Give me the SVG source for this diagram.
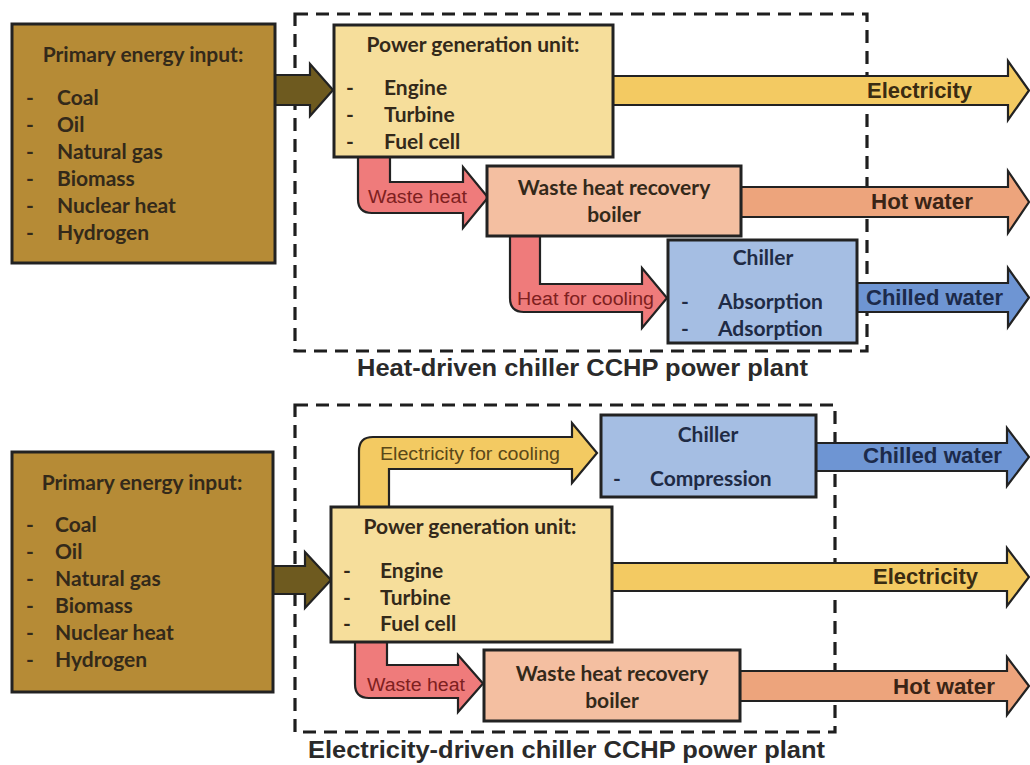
<svg xmlns="http://www.w3.org/2000/svg" width="1030" height="765" viewBox="0 0 1030 765">
<style>
.frame{fill:none;stroke:#1e1e1e;stroke-width:3.2;stroke-dasharray:13 8}
.box{stroke:#222;stroke-width:3}
.arr{stroke:#222;stroke-width:2.2;stroke-linejoin:miter}
.prim{fill:#b68b36}
.pin{fill:#6e5a1f}
.pgu{fill:#f6de9b}
.elec{fill:#f3ca62}
.waste{fill:#ef7b7b}
.whrb{fill:#f4bfa1}
.hot{fill:#eda47c}
.chil{fill:#a5bee3}
.cw{fill:#6e95d3}
.bt{font-family:Lato,"Open Sans",sans-serif;font-weight:bold;font-size:21px;fill:#33291a}
.bc{text-anchor:middle}
.ct{fill:#1f2b45}
.al{font-family:"Liberation Sans",Arial,sans-serif;font-size:18px}
.ol{font-family:"Liberation Sans",Arial,sans-serif;font-weight:bold;font-size:22px}
.title{font-family:"Liberation Sans",Arial,sans-serif;font-weight:bold;font-size:23px;fill:#2a2a2a}
</style>

<!-- dashed frames -->
<g id="frames">
<rect class="frame" x="295" y="14" width="572" height="337"/>
<rect class="frame" x="295" y="405" width="540" height="327"/>
</g>

<!-- connectors -->
<g id="connectors">
<!-- top -->
<polygon class="arr pin" points="275,75 310,75 310,64 333,90 310,116 310,105 275,105"/>
<polygon class="arr elec" points="613,76 1008,76 1008,61 1029,90.5 1008,120 1008,105 613,105"/>
<path class="arr waste" d="M358,157 V199 Q358,213 372,213 H463 V228 L488,197.5 L463,167 V182 H390 V157 Z"/>
<polygon class="arr hot" points="741,187 1008,187 1008,171 1029,202 1008,233 1008,217 741,217"/>
<path class="arr waste" d="M510,236 V298 Q510,312 524,312 H642 V328 L667,298 L642,268 V284 H540 V236 Z"/>
<polygon class="arr cw" points="857,283 1008,283 1008,268 1029,297.5 1008,327 1008,312 857,312"/>
<!-- bottom -->
<polygon class="arr pin" points="273,566 305,566 305,552 331,580 305,608 305,594 273,594"/>
<path class="arr elec" d="M359,507 V451 Q359,437 373,437 H572 V423 L597,453 L572,483 V469 H389 V507 Z"/>
<polygon class="arr cw" points="816,443 1007,443 1007,428 1029,457 1007,486 1007,471 816,471"/>
<polygon class="arr elec" points="612,563 1007,563 1007,548 1029,577 1007,606 1007,591 612,591"/>
<path class="arr waste" d="M355,642 V684 Q355,698 369,698 H458 V712 L483,683.5 L458,655 V665 H387 V642 Z"/>
<polygon class="arr hot" points="740,671 1007,671 1007,657 1029,686 1007,715 1007,701 740,701"/>
</g>

<!-- connector labels -->
<g id="connector-labels">
<text class="ol" x="867" y="98" fill="#3a2c12" textLength="105" lengthAdjust="spacingAndGlyphs">Electricity</text>
<text class="al" x="368" y="203" fill="#7e2020" textLength="99" lengthAdjust="spacingAndGlyphs">Waste heat</text>
<text class="ol" x="871" y="209" fill="#3a2416" textLength="102" lengthAdjust="spacingAndGlyphs">Hot water</text>
<text class="al" x="517" y="305" fill="#7e2020" textLength="137" lengthAdjust="spacingAndGlyphs">Heat for cooling</text>
<text class="ol" x="866" y="305" fill="#1c2a4a" textLength="137" lengthAdjust="spacingAndGlyphs">Chilled water</text>
<text class="al" x="380" y="460" fill="#5a4818" textLength="180" lengthAdjust="spacingAndGlyphs">Electricity for cooling</text>
<text class="ol" x="863" y="463" fill="#1c2a4a" textLength="139" lengthAdjust="spacingAndGlyphs">Chilled water</text>
<text class="ol" x="873" y="584" fill="#3a2c12" textLength="105" lengthAdjust="spacingAndGlyphs">Electricity</text>
<text class="al" x="367" y="691" fill="#7e2020" textLength="98" lengthAdjust="spacingAndGlyphs">Waste heat</text>
<text class="ol" x="893" y="694" fill="#3a2416" textLength="102" lengthAdjust="spacingAndGlyphs">Hot water</text>
</g>

<!-- TOP: Heat-driven chiller -->
<g id="primary-top">
<rect class="box prim" x="12" y="24" width="263" height="239"/>
<text class="bt bc" x="143" y="62">Primary energy input:</text>
<text class="bt" x="26" y="105">-</text><text class="bt" x="57" y="105">Coal</text>
<text class="bt" x="26" y="132">-</text><text class="bt" x="57" y="132">Oil</text>
<text class="bt" x="26" y="159">-</text><text class="bt" x="57" y="159">Natural gas</text>
<text class="bt" x="26" y="186">-</text><text class="bt" x="57" y="186">Biomass</text>
<text class="bt" x="26" y="213">-</text><text class="bt" x="57" y="213">Nuclear heat</text>
<text class="bt" x="26" y="240">-</text><text class="bt" x="57" y="240">Hydrogen</text>
</g>

<g id="pgu-top">
<rect class="box pgu" x="334" y="25" width="279" height="132"/>
<text class="bt bc" x="473" y="52">Power generation unit:</text>
<text class="bt" x="346" y="95">-</text><text class="bt" x="384" y="95">Engine</text>
<text class="bt" x="346" y="122">-</text><text class="bt" x="384" y="122">Turbine</text>
<text class="bt" x="346" y="149">-</text><text class="bt" x="384" y="149">Fuel cell</text>
</g>

<g id="whrb-top">
<rect class="box whrb" x="487" y="166" width="254" height="70"/>
<text class="bt bc" x="614" y="195">Waste heat recovery</text>
<text class="bt bc" x="614" y="222">boiler</text>
</g>

<g id="chiller-top">
<rect class="box chil" x="668" y="240" width="189" height="103"/>
<text class="bt bc ct" x="763" y="265">Chiller</text>
<text class="bt ct" x="681" y="309">-</text><text class="bt ct" x="718" y="309">Absorption</text>
<text class="bt ct" x="681" y="336">-</text><text class="bt ct" x="718" y="336">Adsorption</text>
</g>

<text id="title-top" class="title" x="357" y="376" textLength="451" lengthAdjust="spacingAndGlyphs">Heat-driven chiller CCHP power plant</text>

<!-- BOTTOM: Electricity-driven chiller -->
<g id="primary-bottom">
<rect class="box prim" x="12" y="452" width="261" height="240"/>
<text class="bt bc" x="142" y="490">Primary energy input:</text>
<text class="bt" x="26" y="532">-</text><text class="bt" x="55" y="532">Coal</text>
<text class="bt" x="26" y="559">-</text><text class="bt" x="55" y="559">Oil</text>
<text class="bt" x="26" y="586">-</text><text class="bt" x="55" y="586">Natural gas</text>
<text class="bt" x="26" y="613">-</text><text class="bt" x="55" y="613">Biomass</text>
<text class="bt" x="26" y="640">-</text><text class="bt" x="55" y="640">Nuclear heat</text>
<text class="bt" x="26" y="667">-</text><text class="bt" x="55" y="667">Hydrogen</text>
</g>

<g id="chiller-bottom">
<rect class="box chil" x="601" y="415" width="215" height="82"/>
<text class="bt bc ct" x="708" y="442">Chiller</text>
<text class="bt ct" x="613" y="486">-</text><text class="bt ct" x="650" y="486">Compression</text>
</g>

<g id="pgu-bottom">
<rect class="box pgu" x="331" y="507" width="281" height="135"/>
<text class="bt bc" x="470" y="534">Power generation unit:</text>
<text class="bt" x="343" y="578">-</text><text class="bt" x="380" y="578">Engine</text>
<text class="bt" x="343" y="605">-</text><text class="bt" x="380" y="605">Turbine</text>
<text class="bt" x="343" y="631">-</text><text class="bt" x="380" y="631">Fuel cell</text>
</g>

<g id="whrb-bottom">
<rect class="box whrb" x="484" y="650" width="256" height="71"/>
<text class="bt bc" x="612" y="681">Waste heat recovery</text>
<text class="bt bc" x="612" y="708">boiler</text>
</g>

<text id="title-bottom" class="title" x="308" y="758" textLength="517" lengthAdjust="spacingAndGlyphs">Electricity-driven chiller CCHP power plant</text>
</svg>
